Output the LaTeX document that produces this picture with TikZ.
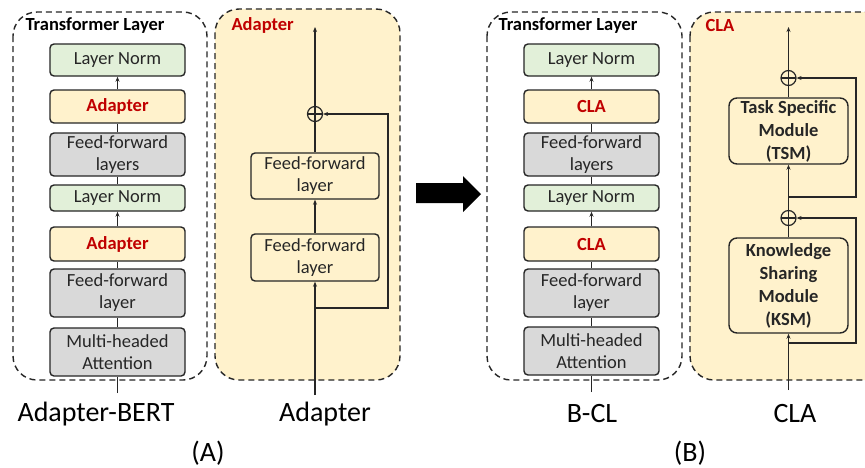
\documentclass[tikz,border=0pt]{standalone}
\usepackage{fontspec}
\setmainfont{Carlito}
\usetikzlibrary{arrows.meta}
\definecolor{lngreen}{HTML}{E2F0D9}
\definecolor{adyel}{HTML}{FFF2CC}
\definecolor{ffgray}{HTML}{D9D9D9}
\definecolor{redt}{HTML}{C00000}
\definecolor{edge}{HTML}{262626}
\tikzset{
  box/.style={draw=edge, line width=1.4pt, rounded corners=4pt, minimum width=135pt,
    inner sep=1pt, align=center, font=\fontsize{18.5}{22}\selectfont, text=edge},
  lnbox/.style={box, fill=lngreen},
  adbox/.style={box, fill=adyel, font=\fontsize{18.5}{22}\selectfont\bfseries, text=redt},
  ffbox/.style={box, fill=ffgray},
  pbox/.style={box, fill=adyel},
  mbox/.style={box, fill=adyel, minimum width=119pt, rounded corners=8pt,
    font=\fontsize{18.5}{23}\selectfont\bfseries},
  panel/.style={draw=edge, dashed, dash pattern=on 6pt off 4pt, line width=1.4pt, rounded corners=24pt},
  conn/.style={draw=edge, line width=1.2pt},
  arr/.style={conn, -{Stealth[length=5pt,width=4pt]}},
  op/.style={circle, draw=edge, line width=1.2pt, minimum size=15pt, inner sep=0pt,
    path picture={\draw[edge, line width=1.2pt]
      (path picture bounding box.north) -- (path picture bounding box.south)
      (path picture bounding box.west) -- (path picture bounding box.east);}},
  ptitle/.style={anchor=west, font=\fontsize{18.5}{22}\selectfont\bfseries},
  captext/.style={font=\fontsize{28}{30}\selectfont, text=black}
}
\begin{document}
\begin{tikzpicture}[x=1pt,y=-1pt]
\useasboundingbox (0,0) rectangle (865,467);
\fill[white] (0,0) rectangle (865,467);

% ---------- Panels ----------
\draw[panel] (13,12) rectangle (207,380);
\draw[panel, fill=adyel] (215,9) rectangle (400,380);
\draw[panel] (487,12) rectangle (682,380);
\begin{scope}
\clip (0,0) rectangle (865,467);
\draw[panel, fill=adyel] (690,12) rectangle (890,380);
\end{scope}

\node[ptitle, text=black] (tA) at (22,26) {Transformer Layer};
\node[ptitle, text=redt] (tAd) at (228,25) {Adapter};
\node[ptitle, text=black] (tB) at (495,26) {Transformer Layer};
\node[ptitle, text=redt] (tCLA) at (702,25) {CLA};

% ---------- Adapter-BERT stack ----------
\node[lnbox, minimum height=32pt] (lnA1) at (117.5,60) {Layer Norm};
\node[adbox, minimum height=33pt] (adA1) at (117.5,106.5) {Adapter};
\node[ffbox, minimum height=43pt] (ffA1) at (117.5,154.5) {Feed-forward\\layers};
\node[lnbox, minimum height=26pt] (lnA2) at (117.5,198) {Layer Norm};
\node[adbox, minimum height=34pt] (adA2) at (117.5,244) {Adapter};
\node[ffbox, minimum height=48pt] (ffA2) at (117.5,293) {Feed-forward\\layer};
\node[ffbox, minimum height=48pt] (mhA) at (117.5,352) {Multi-headed\\Attention};
\coordinate (inA) at (117.5,393);
\draw[arr] (adA1) -- (lnA1);
\draw[conn] (ffA1) -- (adA1);
\draw[conn] (lnA2) -- (ffA1);
\draw[arr] (adA2) -- (lnA2);
\draw[conn] (ffA2) -- (adA2);
\draw[conn] (mhA) -- (ffA2);
\draw[conn] (inA) -- (mhA);

% ---------- Adapter ----------
\node[pbox, minimum width=128pt, minimum height=46pt] (ffP1) at (315,176) {Feed-forward\\layer};
\node[pbox, minimum width=128pt, minimum height=47pt] (ffP2) at (315,257.5) {Feed-forward\\layer};
\node[op] (opA) at (315,114) {};
\coordinate (topAd) at (315,27);
\coordinate (inAd) at (315,395);
\coordinate (brA) at (315,308);
\coordinate (brAr) at (388,308);
\draw[arr] (opA) -- (topAd);
\draw[conn] (ffP1) -- (opA);
\draw[arr] (ffP2) -- (ffP1);
\draw[arr] (inAd) -- (ffP2);
\draw[arr] (brA) -- (brAr) |- (opA);

% ---------- big arrow ----------
\fill[black] (416,183) -- (463,183) -- (463,176) -- (481,194) -- (463,212) -- (463,203) -- (416,203) -- cycle;

% ---------- B-CL stack ----------
\node[lnbox, minimum height=32pt] (lnB1) at (591.5,60) {Layer Norm};
\node[adbox, minimum height=33pt] (adB1) at (591.5,106.5) {CLA};
\node[ffbox, minimum height=43pt] (ffB1) at (591.5,154.5) {Feed-forward\\layers};
\node[lnbox, minimum height=26pt] (lnB2) at (591.5,198) {Layer Norm};
\node[adbox, minimum height=34pt] (adB2) at (591.5,244) {CLA};
\node[ffbox, minimum height=48pt] (ffB2) at (591.5,293) {Feed-forward\\layer};
\node[ffbox, minimum height=48pt] (mhB) at (591.5,351) {Multi-headed\\Attention};
\coordinate (inB) at (591.5,392);
\draw[arr] (adB1) -- (lnB1);
\draw[conn] (ffB1) -- (adB1);
\draw[conn] (lnB2) -- (ffB1);
\draw[arr] (adB2) -- (lnB2);
\draw[conn] (ffB2) -- (adB2);
\draw[conn] (mhB) -- (ffB2);
\draw[conn] (inB) -- (mhB);

% ---------- CLA ----------
\node[mbox, minimum height=66pt] (tsm) at (788.5,131) {Task Specific\\Module\\(TSM)};
\node[mbox, minimum height=95pt] (ksm) at (788.5,285.5) {Knowledge\\Sharing\\Module\\(KSM)};
\node[op] (opC1) at (788.5,78) {};
\node[op] (opC2) at (788.5,218) {};
\coordinate (topC) at (788.5,27);
\coordinate (inC) at (788.5,390);
\coordinate (brC1) at (788.5,197);
\coordinate (brC1r) at (856,197);
\coordinate (brC2) at (788.5,343);
\coordinate (brC2r) at (856,343);
\draw[arr] (opC1) -- (topC);
\draw[conn] (tsm) -- (opC1);
\draw[arr] (opC2) -- (tsm);
\draw[conn] (ksm) -- (opC2);
\draw[arr] (inC) -- (ksm);
\draw[arr] (brC1) -- (brC1r) |- (opC1);
\draw[arr] (brC2) -- (brC2r) |- (opC2);

% ---------- captions ----------
\node[captext] (cA1) at (96,414) {Adapter-BERT};
\node[captext] (cA2) at (325,414) {Adapter};
\node[captext] (cA) at (208,453) {(A)};
\node[captext] (cB1) at (592,414) {B-CL};
\node[captext] (cB2) at (795,414) {CLA};
\node[captext] (cB) at (690,453) {(B)};
\end{tikzpicture}
\end{document}
